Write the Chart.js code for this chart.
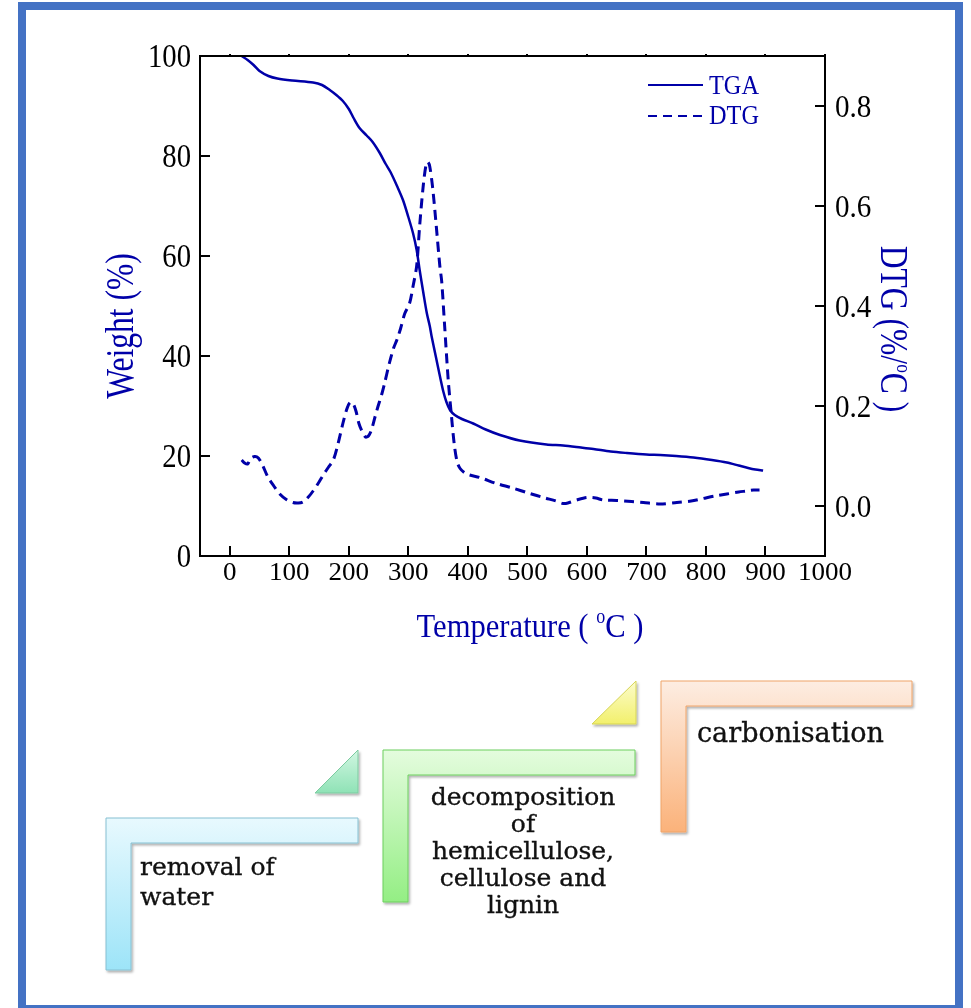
<!DOCTYPE html>
<html>
<head>
<meta charset="utf-8">
<script src="https://cdn.jsdelivr.net/npm/chart.js@4.4.1/dist/chart.umd.min.js"></script>
<style>
html, body { margin: 0; padding: 0; background: #fff; width: 971px; height: 1008px; overflow: hidden; }
#myChart { position: absolute; left: 0; top: 0; z-index: 1; }
#steps { position: absolute; left: 0; top: 0; z-index: 2; }
#frame { position: absolute; left: 18px; top: 2px; width: 945px; height: 1011px; box-sizing: border-box; border: 8px solid #4472C4; z-index: 3; }
</style>
</head>
<body>
<canvas id="myChart" width="971" height="660"></canvas>

<svg id="steps" width="971" height="1008" xmlns="http://www.w3.org/2000/svg">
  <defs>
    <filter id="shadow" x="-10%" y="-10%" width="130%" height="130%">
      <feDropShadow dx="1.5" dy="2" stdDeviation="1.2" flood-color="#000" flood-opacity="0.3"/>
    </filter>
    <linearGradient id="gBlue" x1="0" y1="0" x2="0" y2="1">
      <stop offset="0" stop-color="#E8F9FE"/>
      <stop offset="1" stop-color="#9DE4F8"/>
    </linearGradient>
    <linearGradient id="gMint" x1="0" y1="0" x2="0" y2="1">
      <stop offset="0" stop-color="#D2F7E2"/>
      <stop offset="1" stop-color="#8FE2B6"/>
    </linearGradient>
    <linearGradient id="gGreen" x1="0" y1="0" x2="0" y2="1">
      <stop offset="0" stop-color="#E4FCDE"/>
      <stop offset="1" stop-color="#94EE84"/>
    </linearGradient>
    <linearGradient id="gYellow" x1="0" y1="0" x2="0" y2="1">
      <stop offset="0" stop-color="#FCFCCC"/>
      <stop offset="1" stop-color="#F2F06C"/>
    </linearGradient>
    <linearGradient id="gOrange" x1="0" y1="0" x2="0" y2="1">
      <stop offset="0" stop-color="#FDEDE2"/>
      <stop offset="1" stop-color="#FBB27A"/>
    </linearGradient>
  </defs>
  <g filter="url(#shadow)">
    <polygon points="106,818 358,818 358,843 131,843 131,970 106,970" fill="url(#gBlue)" stroke="#86C0D2" stroke-width="1"/>
    <polygon points="315,793 358,793 358,750" fill="url(#gMint)" stroke="#7CCAA0" stroke-width="1"/>
    <polygon points="383,750 635,750 635,775 408,775 408,902 383,902" fill="url(#gGreen)" stroke="#6CCF5E" stroke-width="1"/>
    <polygon points="592,724 636,724 636,681" fill="url(#gYellow)" stroke="#D6D456" stroke-width="1"/>
    <polygon points="661,681 912,681 912,706 686,706 686,832 661,832" fill="url(#gOrange)" stroke="#EFA468" stroke-width="1"/>
  </g>
  <g font-family="'DejaVu Serif', serif" fill="#111" stroke="#111" stroke-width="0.35">
    <text x="140" y="875" font-size="25">removal of</text>
    <text x="140" y="905" font-size="25">water</text>
    <g text-anchor="middle" font-size="25">
      <text x="523" y="805">decomposition</text>
      <text x="523" y="832">of</text>
      <text x="523" y="859">hemicellulose,</text>
      <text x="523" y="886">cellulose and</text>
      <text x="523" y="913">lignin</text>
    </g>
    <text x="697" y="742" font-size="27">carbonisation</text>
  </g>
</svg>

<div id="frame"></div>

<script>
// TGA curve (temperature in °C, weight in %)
const tgaTemp = [20, 30, 40, 50, 65, 80, 105, 140, 155, 168, 179, 190, 200, 208, 218, 230, 240, 252, 262, 270,
  281, 291, 300, 308, 314, 319, 325, 331, 336, 339, 346, 353, 359, 364, 370, 378, 390, 409, 430, 454,
  487, 532, 560, 590, 611, 640, 667, 700, 723, 750, 779, 810, 835, 855, 868, 883, 896];
const tgaWeight = [100, 99.2, 98.2, 97.0, 96.0, 95.5, 95.1, 94.7, 94.2, 93.2, 92.2, 91.0, 89.4, 87.6, 85.6, 84.1, 82.8, 80.6, 78.4, 76.8,
  74.0, 71.2, 67.8, 64.5, 61.2, 57.2, 52.8, 48.6, 46.0, 44.0, 40.0, 36.0, 32.8, 30.8, 29.2, 28.2, 27.4, 26.5, 25.3, 24.2,
  23.1, 22.3, 22.1, 21.7, 21.4, 20.9, 20.6, 20.3, 20.2, 20.0, 19.7, 19.2, 18.7, 18.1, 17.7, 17.3, 17.1];

// DTG curve (temperature in °C, rate in %/°C)
const dtgTemp = [20, 25, 30, 35, 42, 48, 55, 64, 74, 84, 95, 106, 115, 123, 132, 140, 150, 157, 166, 174,
  182, 190, 197, 202, 207, 212, 217, 222, 228, 233, 238, 244, 249, 255, 260, 268, 275, 281, 287, 294,
  302, 308, 314, 319, 325, 330, 333, 336, 341, 347, 353, 356, 361, 367, 372, 377, 382, 387, 395, 403,
  420, 448, 475, 504, 530, 548, 560, 568, 583, 600, 615, 627, 650, 675, 695, 723, 751, 775, 795, 815,
  835, 855, 868, 880, 890];
const dtgRate = [0.092, 0.086, 0.084, 0.095, 0.099, 0.096, 0.082, 0.058, 0.040, 0.024, 0.013, 0.007, 0.006, 0.008, 0.018, 0.030, 0.048, 0.062, 0.078, 0.092,
  0.125, 0.165, 0.195, 0.207, 0.205, 0.190, 0.165, 0.150, 0.138, 0.140, 0.152, 0.178, 0.199, 0.222, 0.245, 0.285, 0.315, 0.333, 0.355, 0.385,
  0.405, 0.440, 0.480, 0.560, 0.640, 0.684, 0.688, 0.679, 0.635, 0.559, 0.479, 0.450, 0.360, 0.252, 0.186, 0.125, 0.088, 0.075, 0.066, 0.062,
  0.057, 0.045, 0.036, 0.025, 0.016, 0.010, 0.005, 0.006, 0.012, 0.017, 0.016, 0.012, 0.011, 0.009, 0.007, 0.004, 0.007, 0.010, 0.015, 0.020,
  0.024, 0.028, 0.030, 0.032, 0.032];

// tick labels
const xTicks = [0, 100, 200, 300, 400, 500, 600, 700, 800, 900, 1000];
const weightTicks = [0, 20, 40, 60, 80, 100];
const dtgTicks = [0.0, 0.2, 0.4, 0.6, 0.8];

const seriesNames = ['TGA', 'DTG'];
const lineColor = '#0000A8';
const serif = "'Liberation Serif', 'Times New Roman', serif";

// draws a row of text pieces (some raised / smaller), stretched by sx / sy
function drawPieces(ctx, pieces, x, y, o) {
    ctx.save();
    ctx.translate(x, y);
    ctx.rotate(o.angle || 0);
    ctx.scale(o.sx || 1, o.sy || 1);
    ctx.textBaseline = 'alphabetic';
    ctx.textAlign = 'left';
    let total = 0;
    pieces.forEach(p => {
        ctx.font = p.size + 'px ' + serif;
        p.w = ctx.measureText(p.t).width;
        total += p.w;
    });
    let cx = o.align === 'left' ? 0 : (o.align === 'right' ? -total : -total / 2);
    pieces.forEach(p => {
        ctx.font = p.size + 'px ' + serif;
        ctx.fillText(p.t, cx, p.dy || 0);
        cx += p.w;
    });
    ctx.restore();
}

const axesBox = {
    id: 'axesBox',
    afterDatasetsDraw(chart) {
        const ctx = chart.ctx;
        const a = chart.chartArea;
        const sx = chart.scales.x, sy = chart.scales.y, sy1 = chart.scales.y1;
        ctx.save();
        ctx.strokeStyle = '#000';
        ctx.lineWidth = 2;
        ctx.strokeRect(a.left, a.top, a.right - a.left, a.bottom - a.top);
        ctx.beginPath();
        xTicks.forEach(v => {
            const px = Math.round(sx.getPixelForValue(v));
            ctx.moveTo(px, a.bottom);
            ctx.lineTo(px, a.bottom - 10);
            ctx.moveTo(px, a.top);
            ctx.lineTo(px, a.top - 2);
        });
        weightTicks.forEach(v => {
            const py = Math.round(sy.getPixelForValue(v));
            ctx.moveTo(a.left, py);
            ctx.lineTo(a.left + 10, py);
        });
        dtgTicks.forEach(v => {
            const py = Math.round(sy1.getPixelForValue(v));
            ctx.moveTo(a.right, py);
            ctx.lineTo(a.right - 10, py);
        });
        ctx.stroke();

        // legend
        ctx.strokeStyle = lineColor;
        ctx.lineWidth = 2;
        ctx.beginPath();
        ctx.moveTo(648, 85);
        ctx.lineTo(703, 85);
        ctx.stroke();
        ctx.setLineDash([9, 6]);
        ctx.beginPath();
        ctx.moveTo(648, 116);
        ctx.lineTo(703, 116);
        ctx.stroke();
        ctx.restore();

        // tick labels
        ctx.save();
        ctx.fillStyle = '#000';
        xTicks.forEach(v => {
            drawPieces(ctx, [{ t: String(v), size: 26 }], sx.getPixelForValue(v), 580, { sx: 1.04, align: 'center' });
        });
        weightTicks.forEach(v => {
            drawPieces(ctx, [{ t: String(v), size: 33 }], 191, sy.getPixelForValue(v) + 11, { sx: 0.87, align: 'right' });
        });
        dtgTicks.forEach(v => {
            drawPieces(ctx, [{ t: v.toFixed(1), size: 32 }], 835, sy1.getPixelForValue(v) + 10.5, { sx: 0.91, align: 'left' });
        });

        // legend text
        ctx.fillStyle = lineColor;
        drawPieces(ctx, [{ t: seriesNames[0], size: 27 }], 709, 94, { sx: 0.9, align: 'left' });
        drawPieces(ctx, [{ t: seriesNames[1], size: 27 }], 709, 124, { sx: 0.9, align: 'left' });

        // axis titles
        drawPieces(ctx, [{ t: 'Temperature ( ', size: 34 }, { t: 'o', size: 20, dy: -14 }, { t: 'C )', size: 34 }],
            530, 637, { sx: 0.9, align: 'center' });
        drawPieces(ctx, [{ t: 'Weight (%)', size: 40 }], 133, 326, { angle: -Math.PI / 2, sx: 0.79, align: 'center' });
        drawPieces(ctx, [{ t: 'DTG (%/', size: 40 }, { t: 'o', size: 22, dy: -16 }, { t: 'C )', size: 40 }],
            881, 329, { angle: Math.PI / 2, sx: 0.79, align: 'center' });
        ctx.restore();
    }
};

const ctx = document.getElementById('myChart').getContext('2d');
const myChart = new Chart(ctx, {
    type: 'line',
    data: {
        datasets: [{
            label: seriesNames[0],
            data: tgaTemp.map((t, i) => ({ x: t, y: tgaWeight[i] })),
            yAxisID: 'y',
            borderColor: lineColor,
            borderWidth: 2.5,
            pointRadius: 0,
            tension: 0.3,
            clip: 4
        }, {
            label: seriesNames[1],
            data: dtgTemp.map((t, i) => ({ x: t, y: dtgRate[i] })),
            yAxisID: 'y1',
            borderColor: lineColor,
            borderWidth: 3,
            borderDash: [10, 6],
            pointRadius: 0,
            tension: 0.3,
            clip: 4
        }]
    },
    options: {
        responsive: false,
        animation: false,
        layout: { padding: { top: 56, left: 0, right: 0, bottom: 0 } },
        plugins: { legend: { display: false }, tooltip: { enabled: false } },
        scales: {
            x: {
                type: 'linear',
                min: -50,
                max: 1000,
                afterBuildTicks: s => { s.ticks = xTicks.map(v => ({ value: v })); },
                afterFit: s => { s.height = 104; },
                grid: { display: false },
                border: { display: false },
                ticks: { display: false }
            },
            y: {
                position: 'left',
                min: 0,
                max: 100,
                afterBuildTicks: s => { s.ticks = weightTicks.map(v => ({ value: v })); },
                afterFit: s => { s.width = 200; },
                grid: { display: false },
                border: { display: false },
                ticks: { display: false }
            },
            y1: {
                position: 'right',
                min: -0.1,
                max: 0.9,
                afterBuildTicks: s => { s.ticks = dtgTicks.map(v => ({ value: v })); },
                afterFit: s => { s.width = 146; },
                grid: { display: false },
                border: { display: false },
                ticks: { display: false }
            }
        }
    },
    plugins: [axesBox]
});
</script>
</body>
</html>
